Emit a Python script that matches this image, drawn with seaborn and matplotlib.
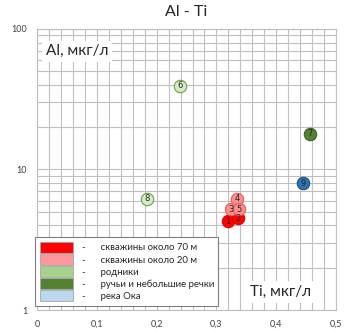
import matplotlib
matplotlib.use("Agg")
import matplotlib.pyplot as plt
import matplotlib.ticker as mticker
from matplotlib.patches import Patch
import seaborn as sns
import pandas as pd
import numpy as np

point_ids = [1, 2, 3, 4, 5, 6, 7, 8, 9]
ti_values = [0.319, 0.336, 0.324, 0.334, 0.338, 0.239, 0.457, 0.184, 0.445]
al_values = [4.3, 4.5, 5.2, 6.2, 5.2, 39.5, 17.9, 6.2, 8.0]
groups = ["w70", "w70", "w20", "w20", "w20", "spring", "stream", "spring", "oka"]

group_labels = {
    "w70": "скважины около 70 м",
    "w20": "скважины около 20 м",
    "spring": "родники",
    "stream": "ручьи и небольшие речки",
    "oka": "река Ока",
}
marker_fill = {"w70": "#FF0000", "w20": "#FF8F8F", "spring": "#D6EAC8",
               "stream": "#548235", "oka": "#2E75B6"}
marker_edge = {"w70": "#E00000", "w20": "#E06060", "spring": "#70A050",
               "stream": "#3D6126", "oka": "#1F4E79"}
legend_fill = {"w70": "#FF0000", "w20": "#FF9999", "spring": "#A9D18E",
               "stream": "#548235", "oka": "#BDD7EE"}

df = pd.DataFrame({"id": point_ids, "Ti": ti_values, "Al": al_values, "group": groups})

sns.set_theme(style="white")
plt.rcParams["font.family"] = ["Lato", "DejaVu Sans"]

fig = plt.figure(figsize=(3.48, 3.32), dpi=100)
ax = fig.add_axes([0.106, 0.066, 0.860, 0.847])

ax.set_yscale("log")
ax.set_xlim(0, 0.5)
ax.set_ylim(1, 100)

# grid: every 0.02 on Ti, log minor lines on Al
ax.xaxis.set_major_locator(mticker.MultipleLocator(0.1))
ax.xaxis.set_minor_locator(mticker.MultipleLocator(0.02))
ax.yaxis.set_major_locator(mticker.LogLocator(base=10))
ax.yaxis.set_minor_locator(mticker.LogLocator(base=10, subs=np.arange(2, 10)))
ax.grid(True, which="both", color="#BFBFBF", linewidth=0.8)
ax.set_axisbelow(True)
ax.xaxis.set_major_formatter(mticker.FuncFormatter(
    lambda v, p: "0" if abs(v) < 1e-9 else f"{v:.1f}".replace(".", ",")))
ax.yaxis.set_major_formatter(mticker.FuncFormatter(lambda v, p: f"{v:g}"))
ax.yaxis.set_minor_formatter(mticker.NullFormatter())
ax.tick_params(axis="both", which="both", length=0, labelsize=6.5, colors="#404040", pad=7)
for s in ax.spines.values():
    s.set_color("#BFBFBF")
    s.set_linewidth(0.8)

for g in ["w70", "w20", "spring", "stream", "oka"]:
    sub = df[df["group"] == g]
    if len(sub):
        sns.scatterplot(data=sub, x="Ti", y="Al", ax=ax, s=80, color=marker_fill[g],
                        edgecolor=marker_edge[g], linewidth=0.8, zorder=3, legend=False)

for _, r in df.iterrows():
    ax.text(r["Ti"], r["Al"], str(r["id"]), fontsize=6, ha="center", va="center",
            color="#262626", zorder=4, family="DejaVu Sans")

ax.set_xlabel("")
ax.set_ylabel("")
ax.set_title("Al - Ti", fontsize=11.5, pad=9, color="#262626")

ax.text(0.03, 0.92, "Al, мкг/л", transform=ax.transAxes, fontsize=11, color="#262626",
        va="center", ha="left", zorder=5,
        bbox=dict(boxstyle="square,pad=0.25", fc="white", ec="none"))
ax.text(0.915, 0.065, "Ti, мкг/л", transform=ax.transAxes, fontsize=11, color="#262626",
        va="center", ha="right", zorder=5,
        bbox=dict(boxstyle="square,pad=0.25", fc="white", ec="none"))

handles = [Patch(facecolor=legend_fill[g], edgecolor="#A6A6A6", linewidth=0.6)
           for g in group_labels]
labels = ["-      " + group_labels[g] for g in group_labels]
leg = ax.legend(handles, labels, loc="lower left", bbox_to_anchor=(-0.015, 0.005),
                fontsize=6.9, frameon=True, fancybox=False, handlelength=3.5,
                handleheight=1.45, handletextpad=0.9, labelspacing=0.08,
                borderpad=0.45, borderaxespad=0.3)
leg.get_frame().set_edgecolor("#7F7F7F")
leg.get_frame().set_linewidth(0.8)
leg.get_frame().set_facecolor("white")
leg.get_frame().set_alpha(1)
leg.set_zorder(6)

fig.savefig("out.png", dpi=100)
